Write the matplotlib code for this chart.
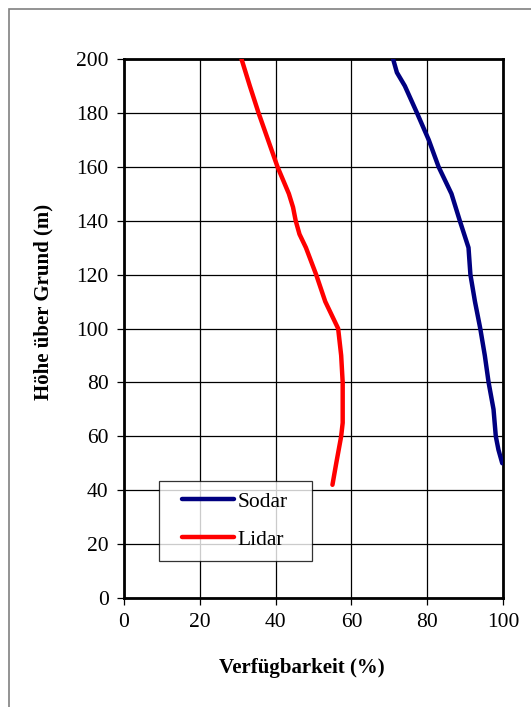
import numpy as np
import matplotlib
matplotlib.use('Agg')
import matplotlib.pyplot as plt
from matplotlib.patches import Rectangle
from matplotlib.legend_handler import HandlerLine2D

# ============================================================
# Data
# ============================================================
sodar_hoehe = [50, 55, 60, 70, 80, 90, 100, 110, 120, 130, 140, 150, 160, 170, 180, 190, 195, 200]
sodar_verf  = [99.8, 98.8, 98.1, 97.5, 96.2, 95.2, 94.0, 92.6, 91.4, 90.9, 88.6, 86.4, 83.0, 80.4, 77.3, 74.1, 72.0, 71.0]

lidar_hoehe = [42, 50, 60, 65, 70, 80, 90, 100, 110, 120, 130, 135, 140, 145, 150, 160, 170, 180, 190, 200]
lidar_verf  = [55.0, 56.0, 57.3, 57.7, 57.7, 57.7, 57.3, 56.5, 53.1, 50.7, 48.0, 46.3, 45.3, 44.6, 43.5, 40.5, 38.0, 35.5, 33.2, 31.0]

x_ticks = [0, 20, 40, 60, 80, 100]
y_ticks = [0, 20, 40, 60, 80, 100, 120, 140, 160, 180, 200]

plt.rcParams['font.family'] = ['Liberation Serif', 'DejaVu Serif']

fig = plt.figure(figsize=(5.31, 7.07), dpi=100)
# outer chart frame (cut off at right and bottom, as in the reference)
fig.patches.append(Rectangle((9 / 531, -0.05), 1.1, 1 - 9 / 707 + 0.05,
                             transform=fig.transFigure, fill=False,
                             edgecolor='#808080', linewidth=1.2))

ax = fig.add_axes([124 / 531, 1 - 598 / 707, (503 - 124) / 531, (598 - 59) / 707])

ax.plot(sodar_verf, sodar_hoehe, color='#000080', linewidth=3.2, label='Sodar',
        solid_capstyle='round', solid_joinstyle='round', zorder=3)
ax.plot(lidar_verf, lidar_hoehe, color='#ff0000', linewidth=3.2, label='Lidar',
        solid_capstyle='round', solid_joinstyle='round', zorder=3)

ax.set_xlim(0, 100)
ax.set_ylim(0, 200)
ax.set_xticks(x_ticks)
ax.set_yticks(y_ticks)
ax.grid(True, color='black', linewidth=0.9)
ax.set_axisbelow(True)
for s in ax.spines.values():
    s.set_linewidth(2)
    s.set_color('black')
ax.tick_params(direction='out', length=5, width=0.9, pad=6, labelsize=15.5, colors='black')

fig.text(43 / 531, 1 - 302 / 707, 'Höhe über Grund (m)', rotation=90,
         ha='center', va='center', fontsize=15, fontweight='bold')
fig.text(302 / 531, 1 - 668 / 707, 'Verfügbarkeit (%)',
         ha='center', va='center', fontsize=15, fontweight='bold')

# legend box: x 159..312, top at y=481 (pixels)
leg = ax.legend(loc='upper left',
                bbox_to_anchor=((159 - 124) / 379, (598 - 481) / 539, (312 - 159) / 379, 0.0),
                mode='expand', frameon=True, fancybox=False, fontsize=15.5,
                handlelength=3.0, handletextpad=0.15, borderaxespad=0,
                labelspacing=0.84, borderpad=0.5,
                handler_map={plt.Line2D: HandlerLine2D(xpad=0.57)})
leg.get_frame().set_edgecolor('black')
leg.get_frame().set_linewidth(0.9)

plt.savefig('out.png', dpi=100)
plt.close()
